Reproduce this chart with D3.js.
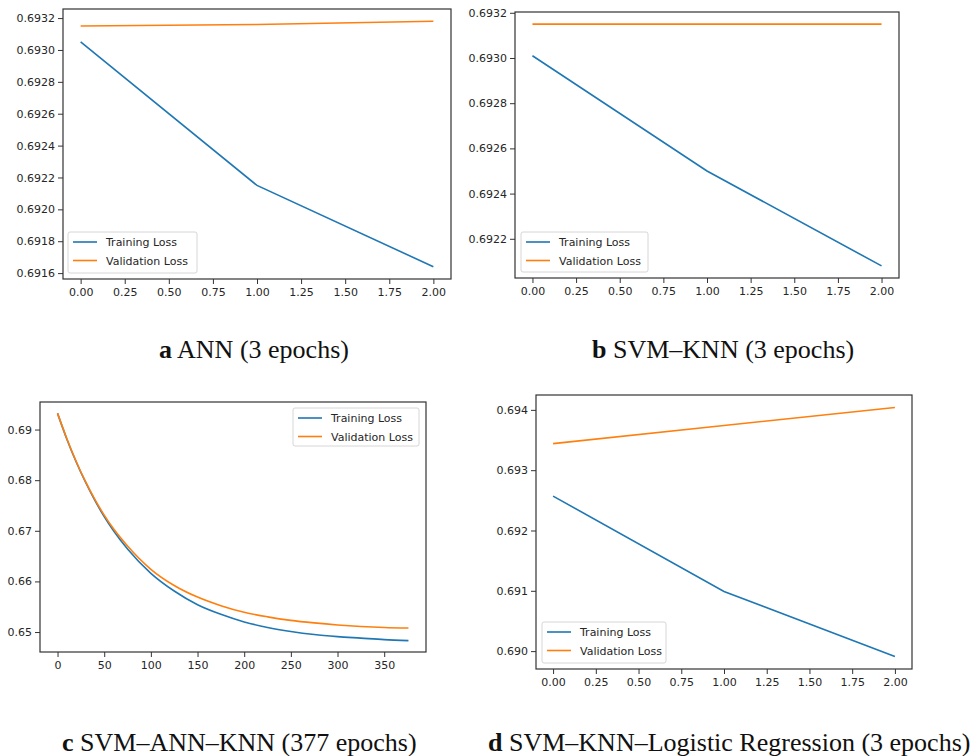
<!DOCTYPE html>
<html>
<head>
<meta charset="utf-8">
<script src="https://cdn.jsdelivr.net/npm/d3@7"></script>
<style>
  body { margin: 0; background: #fff; }
  .caption { font-family: "Liberation Serif", "Times New Roman", serif; font-size: 26px; fill: #111; }
  .legend text { font-family: "DejaVu Sans", sans-serif; font-size: 11px; fill: #262626; }
</style>
</head>
<body>
<svg id="chart" width="979" height="756"></svg>
<script>
// values
var epochs3 = [0, 1, 2];
var annTrain = [0.69305, 0.69215, 0.69164];
var annVal = [0.69315, 0.69316, 0.69318];
var svmKnnTrain = [0.69301, 0.69250, 0.69208];
var svmKnnVal = [0.69315, 0.69315, 0.69315];
var hybridEpochs = [0, 10, 20, 30, 40, 50, 60, 75, 100, 125, 150, 175, 200, 225, 250, 275, 300, 325, 350, 376];
var hybridTrain = [0.6932, 0.6881, 0.6836, 0.6796, 0.6760, 0.6728, 0.6700, 0.6664, 0.6616, 0.6581, 0.6554, 0.6535, 0.6520, 0.6509, 0.6501, 0.6495, 0.6491, 0.6488, 0.6485, 0.6483];
var hybridVal = [0.6932, 0.6882, 0.6837, 0.6797, 0.6762, 0.6731, 0.6704, 0.6670, 0.6624, 0.6592, 0.6569, 0.6552, 0.6539, 0.6530, 0.6523, 0.6518, 0.6514, 0.6511, 0.6509, 0.6508];
var logRegTrain = [0.69257, 0.69099, 0.68991];
var logRegVal = [0.69344, 0.69374, 0.69404];

var ticks3 = [0, 0.25, 0.5, 0.75, 1, 1.25, 1.5, 1.75, 2];
var ticksHybridX = [0, 50, 100, 150, 200, 250, 300, 350];
var ticksAnnY = [0.6916, 0.6918, 0.692, 0.6922, 0.6924, 0.6926, 0.6928, 0.693, 0.6932];
var ticksSvmKnnY = [0.6922, 0.6924, 0.6926, 0.6928, 0.693, 0.6932];
var ticksHybridY = [0.65, 0.66, 0.67, 0.68, 0.69];
var ticksLogRegY = [0.69, 0.691, 0.692, 0.693, 0.694];

var seriesNames = ["Training Loss", "Validation Loss"];
var captionLetters = ["a", "b", "c", "d"];
var captionTexts = [" ANN (3 epochs)", " SVM\u2013KNN (3 epochs)", " SVM\u2013ANN\u2013KNN (377 epochs)", " SVM\u2013KNN\u2013Logistic Regression (3 epochs)"];

var blue = "#1f77b4";
var orange = "#ff7f0e";

var svg = d3.select("#chart");

var panels = [
  {xs: epochs3, train: annTrain, val: annVal, xTicks: ticks3, yTicks: ticksAnnY, xFmt: ".2f", yFmt: ".4f",
   left: 63, right: 451, top: 9, bottom: 279, legend: [68, 232, 129, 41], capX: 159, capY: 358},
  {xs: epochs3, train: svmKnnTrain, val: svmKnnVal, xTicks: ticks3, yTicks: ticksSvmKnnY, xFmt: ".2f", yFmt: ".4f",
   left: 515, right: 899, top: 12, bottom: 278, legend: [521, 232, 127, 40], capX: 592, capY: 358},
  {xs: hybridEpochs, train: hybridTrain, val: hybridVal, xTicks: ticksHybridX, yTicks: ticksHybridY, xFmt: "d", yFmt: ".2f",
   left: 40, right: 426, top: 402, bottom: 652, legend: [293, 408, 126, 38], capX: 62, capY: 751},
  {xs: epochs3, train: logRegTrain, val: logRegVal, xTicks: ticks3, yTicks: ticksLogRegY, xFmt: ".2f", yFmt: ".3f",
   left: 536, right: 912, top: 395, bottom: 669, legend: [542, 622, 124, 41], capX: 488, capY: 751}
];

// matplotlib style 5% margin around the data
function padded(ext) {
  var m = (ext[1] - ext[0]) * 0.05;
  return [ext[0] - m, ext[1] + m];
}

panels.forEach(function(p, i) {
  var x = d3.scaleLinear().domain(padded(d3.extent(p.xs))).range([p.left, p.right]);
  var y = d3.scaleLinear().domain(padded(d3.extent(p.train.concat(p.val)))).range([p.bottom, p.top]);
  var g = svg.append("g");

  var xAxis = g.append("g")
    .attr("transform", "translate(0," + p.bottom + ")")
    .call(d3.axisBottom(x).tickValues(p.xTicks).tickFormat(d3.format(p.xFmt)).tickSize(5).tickPadding(4));
  var yAxis = g.append("g")
    .attr("transform", "translate(" + p.left + ",0)")
    .call(d3.axisLeft(y).tickValues(p.yTicks).tickFormat(d3.format(p.yFmt)).tickSize(5).tickPadding(3));
  [xAxis, yAxis].forEach(function(ax) {
    ax.select(".domain").remove();
    ax.attr("font-family", "DejaVu Sans, sans-serif").attr("font-size", 11);
    ax.selectAll(".tick line").attr("stroke", "#333");
    ax.selectAll(".tick text").attr("fill", "#262626");
  });

  var line = d3.line()
    .x(function(d) { return x(d[0]); })
    .y(function(d) { return y(d[1]); })
    .curve(p.xs.length > 3 ? d3.curveMonotoneX : d3.curveLinear);

  [p.train, p.val].forEach(function(vals, k) {
    g.append("path")
      .datum(p.xs.map(function(e, j) { return [e, vals[j]]; }))
      .attr("fill", "none")
      .attr("stroke", k == 0 ? blue : orange)
      .attr("stroke-width", 1.6)
      .attr("d", line);
  });

  g.append("rect")
    .attr("x", p.left).attr("y", p.top)
    .attr("width", p.right - p.left).attr("height", p.bottom - p.top)
    .attr("fill", "none").attr("stroke", "#333").attr("stroke-width", 1.2);

  var lg = g.append("g").attr("class", "legend")
    .attr("transform", "translate(" + p.legend[0] + "," + p.legend[1] + ")");
  lg.append("rect")
    .attr("width", p.legend[2]).attr("height", p.legend[3])
    .attr("rx", 2)
    .attr("fill", "#fff").attr("fill-opacity", 0.8)
    .attr("stroke", "#d6d6d6");
  seriesNames.forEach(function(name, k) {
    var ly = 10 + k * 18.5;
    lg.append("line")
      .attr("x1", 5).attr("x2", 29).attr("y1", ly).attr("y2", ly)
      .attr("stroke", k == 0 ? blue : orange).attr("stroke-width", 1.6);
    lg.append("text")
      .attr("x", 38).attr("y", ly + 4)
      .text(name);
  });

  var cap = svg.append("text").attr("class", "caption")
    .attr("x", p.capX).attr("y", p.capY);
  cap.append("tspan").attr("font-weight", "bold").text(captionLetters[i]);
  cap.append("tspan").text(captionTexts[i]);
});
</script>
</body>
</html>
